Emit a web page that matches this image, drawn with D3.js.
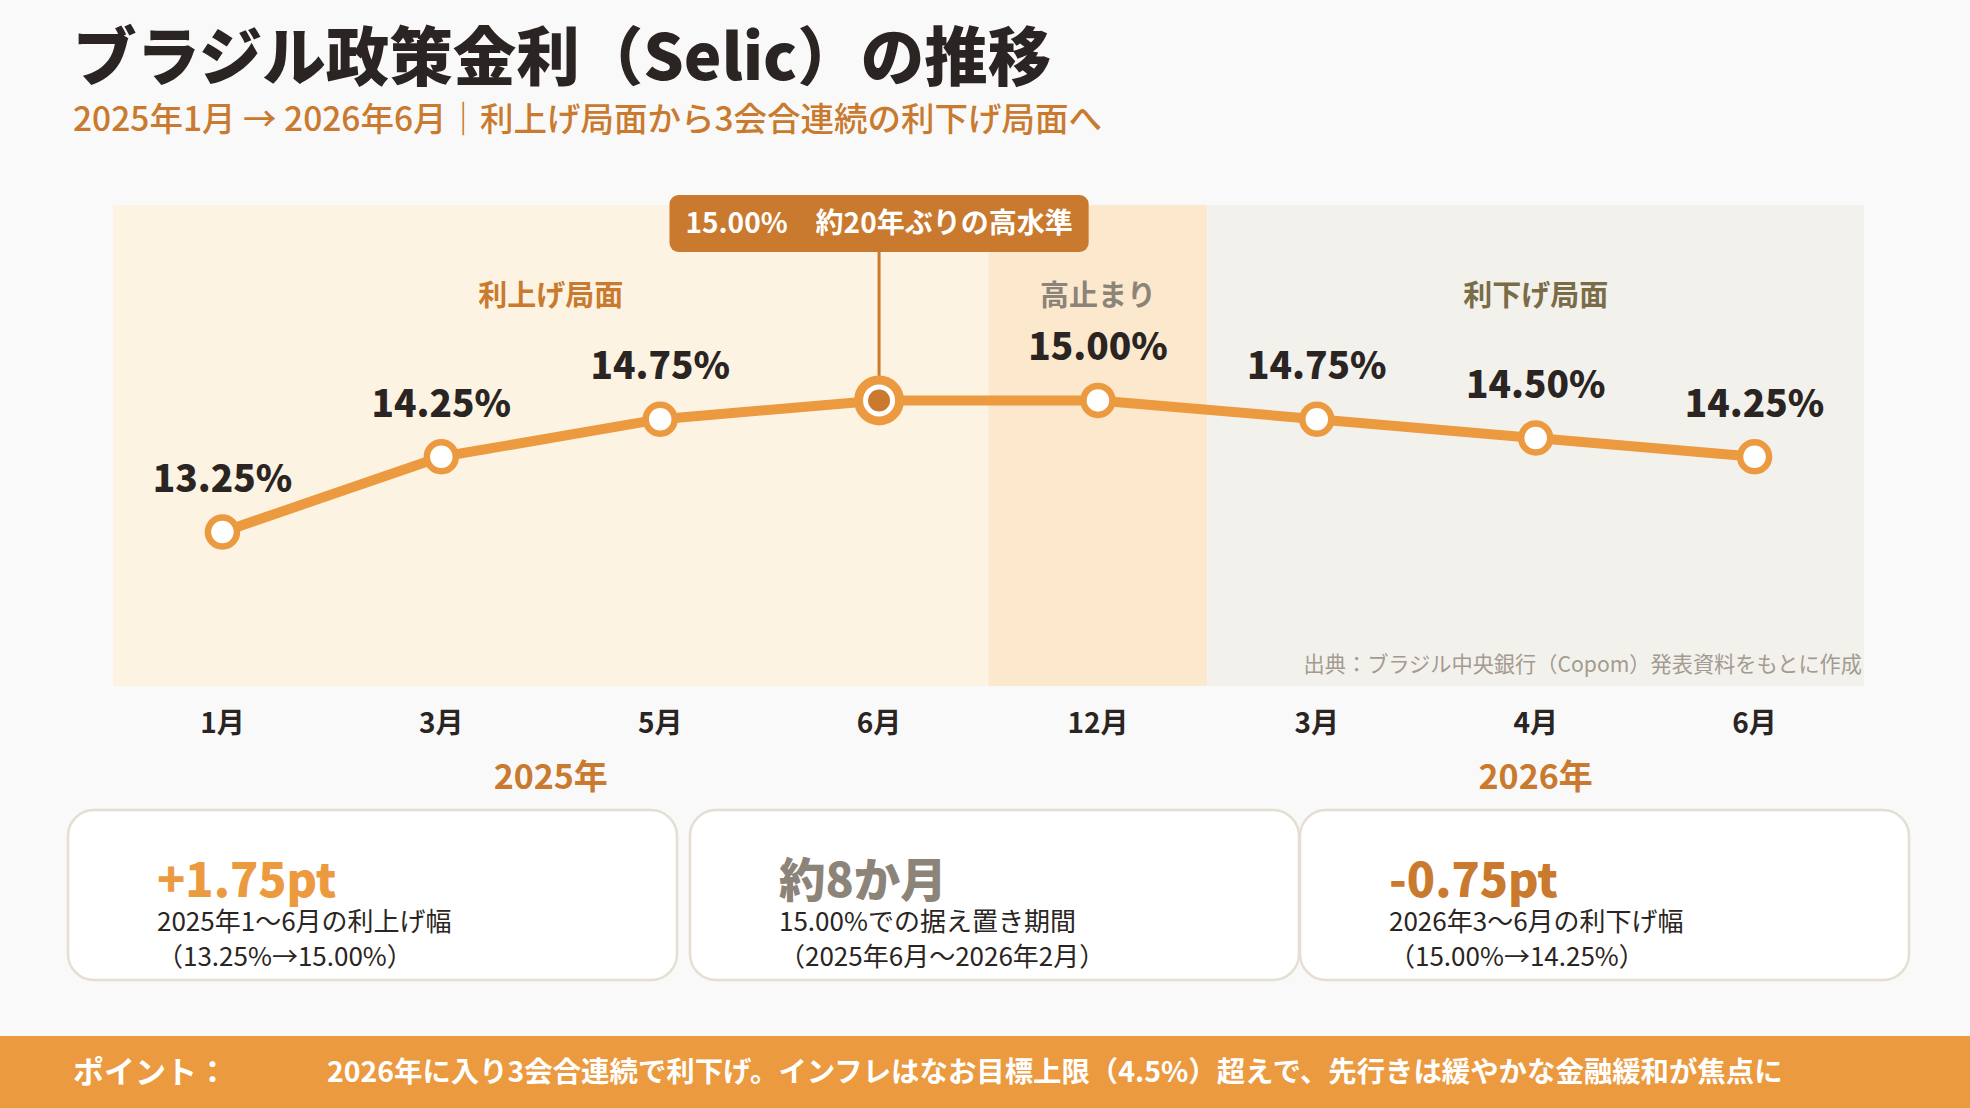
<!DOCTYPE html>
<html lang="ja">
<head>
<meta charset="utf-8">
<script src="https://cdn.jsdelivr.net/npm/d3@7"></script>
<style>
  html, body { margin: 0; padding: 0; background: #f9f9f9; }
  svg { display: block; font-family: "Noto Sans CJK JP", "Noto Sans", sans-serif; }
</style>
</head>
<body>
<div id="chart"></div>
<script>
// data
const periods = ["2025-01", "2025-03", "2025-05", "2025-06", "2025-12", "2026-03", "2026-04", "2026-06"];
const monthLabels = ["1月", "3月", "5月", "6月", "12月", "3月", "4月", "6月"];
const rates = [13.25, 14.25, 14.75, 15.00, 15.00, 14.75, 14.50, 14.25];
const phaseNames = ["利上げ局面", "高止まり", "利下げ局面"];
const phaseStart = [0, 4, 5];
const phaseEnd = [3, 4, 7];
const yearNames = ["2025年", "2026年"];
const yearStart = [0, 5];
const yearEnd = [3, 7];
const peakIndex = 3;
const peakNote = "15.00%　約20年ぶりの高水準";
const cardValues = ["+1.75pt", "約8か月", "-0.75pt"];
const cardLine1 = ["2025年1〜6月の利上げ幅", "15.00%での据え置き期間", "2026年3〜6月の利下げ幅"];
const cardLine2 = ["（13.25%→15.00%）", "（2025年6月〜2026年2月）", "（15.00%→14.25%）"];

const W = 1970, H = 1108;
const panel = { left: 113, right: 1864, top: 205, bottom: 686 };

const phaseFill = ["#fdf3e2", "#fbe8cd", "#f3f1ec"];
const phaseText = ["#c97a2e", "#8c8379", "#7a6c47"];
const cardValueColor = ["#ec9a40", "#8c8379", "#c97a2e"];
const lineColor = "#ec9a40";
const darkOrange = "#c97a2e";
const ink = "#2a2522";

const svg = d3.select("#chart").append("svg")
    .attr("width", W)
    .attr("height", H);

svg.append("rect").attr("width", W).attr("height", H).attr("fill", "#f9f9f9");

// title
svg.append("text")
    .attr("x", 73).attr("y", 80)
    .attr("font-size", 63.5).attr("font-weight", 900).attr("fill", ink)
    .text("ブラジル政策金利（Selic）の推移");

svg.append("text")
    .attr("x", 73).attr("y", 131)
    .attr("font-size", 33.5).attr("font-weight", 500).attr("fill", darkOrange)
    .text("2025年1月 → 2026年6月｜利上げ局面から3会合連続の利下げ局面へ");

// scales
const xScale = d3.scaleBand()
    .domain(periods)
    .range([panel.left, panel.right])
    .padding(0);

const xc = i => xScale(periods[i]) + xScale.bandwidth() / 2;

const yScale = d3.scaleLinear()
    .domain([11.2, 17.6])
    .range([panel.bottom, panel.top]);

// phase backgrounds
phaseNames.forEach((name, k) => {
    const x0 = xScale(periods[phaseStart[k]]);
    const x1 = xScale(periods[phaseEnd[k]]) + xScale.bandwidth();
    svg.append("rect")
        .attr("x", x0).attr("y", panel.top)
        .attr("width", x1 - x0).attr("height", panel.bottom - panel.top)
        .attr("fill", phaseFill[k]);
    svg.append("text")
        .attr("x", (xc(phaseStart[k]) + xc(phaseEnd[k])) / 2)
        .attr("y", 306)
        .attr("text-anchor", "middle")
        .attr("font-size", 29).attr("font-weight", 700)
        .attr("fill", phaseText[k])
        .text(name);
});

// source note
svg.append("text")
    .attr("x", panel.right - 2).attr("y", 672)
    .attr("text-anchor", "end")
    .attr("font-size", 21.2).attr("fill", "#a39b92")
    .text("出典：ブラジル中央銀行（Copom）発表資料をもとに作成");

// line
const line = d3.line()
    .x((d, i) => xc(i))
    .y(d => yScale(d));

svg.append("path")
    .datum(rates)
    .attr("fill", "none")
    .attr("stroke", lineColor)
    .attr("stroke-width", 10)
    .attr("stroke-linejoin", "round")
    .attr("d", line);

// callout connector
const peakY = yScale(rates[peakIndex]);
svg.append("line")
    .attr("x1", xc(peakIndex)).attr("x2", xc(peakIndex))
    .attr("y1", 250).attr("y2", peakY - 20)
    .attr("stroke", darkOrange).attr("stroke-width", 3);

// markers
rates.forEach((v, i) => {
    if (i === peakIndex) {
        svg.append("circle")
            .attr("cx", xc(i)).attr("cy", yScale(v)).attr("r", 20.5)
            .attr("fill", "#fff").attr("stroke", lineColor).attr("stroke-width", 9);
        svg.append("circle")
            .attr("cx", xc(i)).attr("cy", yScale(v)).attr("r", 11)
            .attr("fill", darkOrange);
    } else {
        svg.append("circle")
            .attr("cx", xc(i)).attr("cy", yScale(v)).attr("r", 14.5)
            .attr("fill", "#fff").attr("stroke", lineColor).attr("stroke-width", 6.5);
        svg.append("text")
            .attr("x", xc(i)).attr("y", yScale(v) - 40)
            .attr("text-anchor", "middle")
            .attr("font-size", 37).attr("font-weight", 900).attr("fill", ink)
            .text(v.toFixed(2) + "%");
    }
});

// callout box
const note = svg.append("g");
const noteRect = note.append("rect").attr("fill", darkOrange).attr("rx", 9);
const noteText = note.append("text")
    .attr("x", xc(peakIndex)).attr("y", 233)
    .attr("text-anchor", "middle")
    .attr("font-size", 28).attr("font-weight", 700).attr("fill", "#fff")
    .text(peakNote);
const nb = noteText.node().getBBox();
noteRect
    .attr("x", nb.x - 16).attr("y", 195)
    .attr("width", nb.width + 32).attr("height", 57);

// x axis labels
const xAxis = svg.append("g")
    .attr("transform", `translate(0,${panel.bottom})`)
    .call(d3.axisBottom(xScale).tickSize(0).tickPadding(0).tickFormat((d, i) => monthLabels[i]));
xAxis.select(".domain").remove();
xAxis.selectAll("text")
    .attr("y", 47).attr("dy", null)
    .attr("font-family", "Noto Sans CJK JP")
    .attr("font-size", 28).attr("font-weight", 700).attr("fill", ink);

yearNames.forEach((name, k) => {
    svg.append("text")
        .attr("x", (xc(yearStart[k]) + xc(yearEnd[k])) / 2)
        .attr("y", 789)
        .attr("text-anchor", "middle")
        .attr("font-size", 34).attr("font-weight", 700).attr("fill", darkOrange)
        .text(name);
});

// cards
const cardX = [68, 690, 1300];
const cardW = 609;
cardValues.forEach((val, k) => {
    const g = svg.append("g").attr("transform", `translate(${cardX[k]},810)`);
    g.append("rect")
        .attr("x", 0).attr("y", 0).attr("width", cardW).attr("height", 170)
        .attr("rx", 26)
        .attr("fill", "#fff").attr("stroke", "#e4ded3").attr("stroke-width", 2.5);
    g.append("text")
        .attr("x", 89).attr("y", 87)
        .attr("font-size", 46.5).attr("font-weight", 900).attr("fill", cardValueColor[k])
        .text(val);
    g.append("text")
        .attr("x", 89).attr("y", 121)
        .attr("font-size", 26).attr("fill", ink)
        .text(cardLine1[k]);
    g.append("text")
        .attr("x", 89).attr("y", 156)
        .attr("font-size", 26).attr("fill", ink)
        .text(cardLine2[k]);
});

// bottom bar
svg.append("rect")
    .attr("x", 0).attr("y", 1036).attr("width", W).attr("height", H - 1036)
    .attr("fill", lineColor);
svg.append("text")
    .attr("x", 73).attr("y", 1083)
    .attr("font-size", 31).attr("font-weight", 700).attr("fill", "#fff")
    .text("ポイント：");
svg.append("text")
    .attr("x", 327).attr("y", 1082)
    .attr("font-size", 28.4).attr("font-weight", 700).attr("fill", "#fff")
    .text("2026年に入り3会合連続で利下げ。インフレはなお目標上限（4.5%）超えで、先行きは緩やかな金融緩和が焦点に");
</script>
</body>
</html>
